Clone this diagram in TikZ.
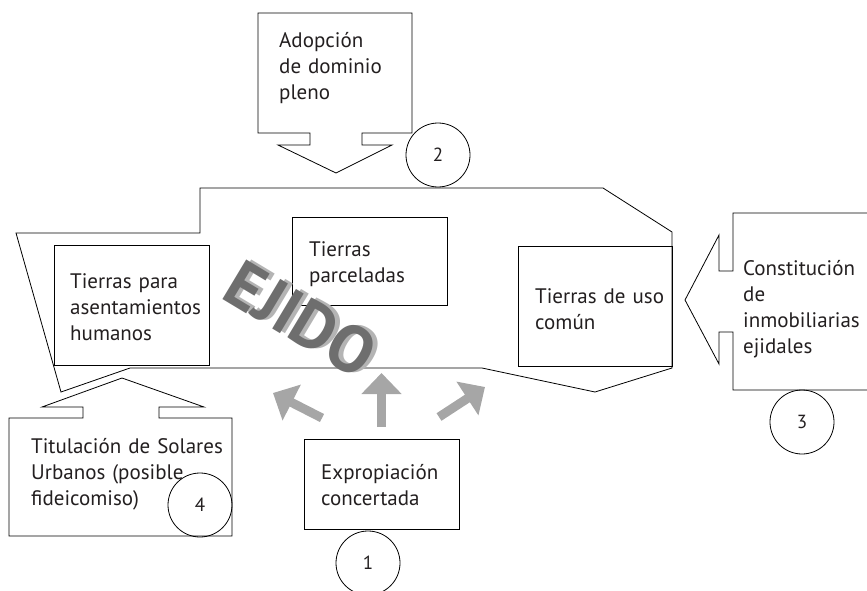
\documentclass[tikz,border=0pt]{standalone}
\usepackage{fontspec}
\setmainfont{PT Sans}
\usetikzlibrary{arrows.meta}
\definecolor{txt}{HTML}{231F20}
\definecolor{arrowgray}{HTML}{A6A6A6}
\definecolor{ejdark}{HTML}{6E6E6E}
\definecolor{ejlight}{HTML}{B4B4B4}
\begin{document}
\begin{tikzpicture}[x=1pt,y=-1pt,
  outline/.style={draw=black, line width=0.8pt, line join=miter},
  box/.style={draw=black, line width=0.8pt, inner sep=0pt, anchor=north west},
  lbl/.style={inner sep=0pt, anchor=base west, text width=170pt, align=left, font=\fontsize{21}{26}\selectfont, text=txt},
  num/.style={circle, draw=black, line width=0.8pt, minimum size=64pt, inner sep=0pt, font=\fontsize{19}{20}\selectfont, text=txt},
  garrow/.style={draw=arrowgray, line width=9pt, -{Triangle[length=21pt,width=39pt]}},
  ejtext/.style={rotate=-31, inner sep=0pt, font=\fontsize{66}{68}\selectfont\bfseries}
]
\useasboundingbox (0,0) rectangle (867,591);
\clip (0,0) rectangle (867,591);

% main ejido outline
\draw[outline] (200,188) -- (603,188) -- (672,232) -- (672,368) -- (595,392) -- (482,368)
  -- (130,368) -- (61,392) -- (16,233) -- (200,233) -- cycle;

% inner boxes
\node[box, minimum width=155pt, minimum height=120pt] (asent) at (54,245) {};
\node[box, minimum width=155pt, minimum height=88pt] (parc) at (292,217) {};
\node[box, minimum width=154pt, minimum height=120pt] (comun) at (518,246) {};
\node[box, minimum width=155pt, minimum height=90pt] (expro) at (304,439) {};

% EJIDO watermark
\node[ejtext, text=ejlight] (ejidoS) at (306,319) {EJIDO};
\node[ejtext, text=ejdark] (ejido) at (301,319) {EJIDO};

% callout: Adopcion (down arrow)
\draw[outline] (258,13) -- (412,13) -- (412,133) -- (362,133) -- (362,145) -- (392,145)
  -- (336,173) -- (278,145) -- (310,145) -- (310,133) -- (258,133) -- cycle;
% callout: Constitucion (left arrow)
\draw[outline] (880,213) -- (733,213) -- (733,271) -- (719,271) -- (719,235) -- (685,300)
  -- (719,364) -- (719,332) -- (733,332) -- (733,390) -- (880,390);
% callout: Titulacion (up arrow)
\draw[outline] (9,418) -- (83,418) -- (83,407) -- (42,407) -- (122,378) -- (204,407)
  -- (159,407) -- (159,418) -- (232,418) -- (232,536) -- (9,536) -- cycle;

% labels
\node[lbl] (tAdop) at (279,48) {Adopción\\de dominio\\pleno};
\node[lbl] (tAsent) at (70,288) {Tierras para\\asentamientos\\humanos};
\node[lbl] (tParc) at (309,256) {Tierras\\parceladas};
\node[lbl] (tComun) at (535,303) {Tierras de uso\\común};
\node[lbl] (tConst) at (743,275) {Constitución\\de\\inmobiliarias\\ejidales};
\node[lbl, text width=210pt] (tTit) at (31,453) {Titulación de Solares\\Urbanos (posible\\fideicomiso)};
\node[lbl] (tExp) at (321,479) {Expropiación\\concertada};

% numbered circles
\node[num] (n1) at (368,563) {1};
\node[num] (n2) at (438,155) {2};
\node[num] (n3) at (802,422) {3};
\node[num] (n4) at (200,505) {4};

% gray arrows
\coordinate (aUt) at (381.5,427);
\coordinate (aUh) at (381.5,373);
\coordinate (aLt) at (322,418);
\coordinate (aLh) at (273,393);
\coordinate (aRt) at (439,417);
\coordinate (aRh) at (485,387);
\draw[garrow] (aUt) -- (aUh);
\draw[garrow] (aLt) -- (aLh);
\draw[garrow] (aRt) -- (aRh);
\end{tikzpicture}
\end{document}
